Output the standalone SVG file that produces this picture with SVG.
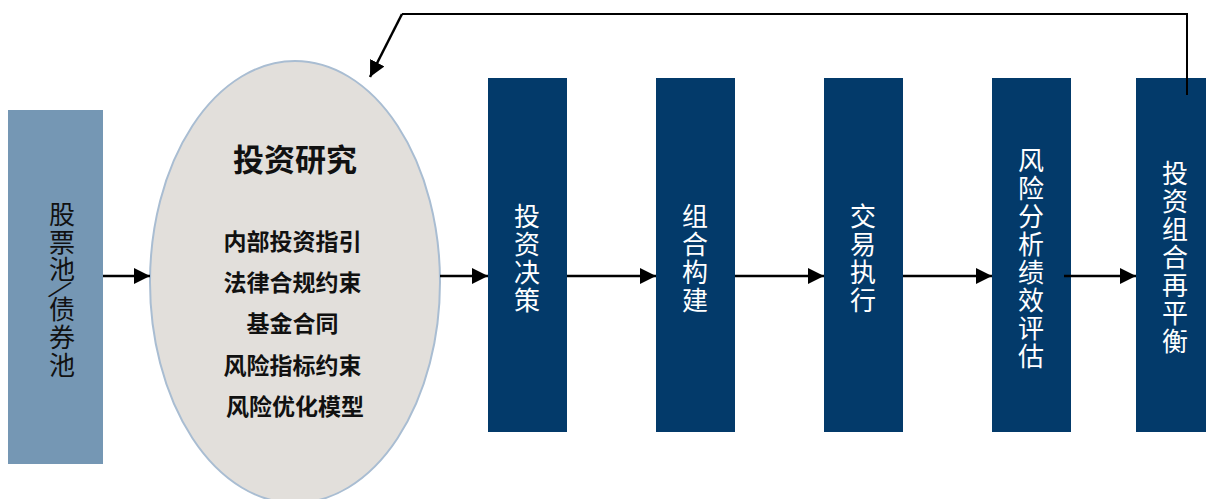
<svg xmlns="http://www.w3.org/2000/svg" width="1206" height="499" viewBox="0 0 1206 499">
<style>
.dark{fill:#033A6A}
.vt{font-family:"Noto Sans CJK SC","Noto Sans",sans-serif;font-size:26px;fill:#ffffff;text-anchor:middle}
.el{font-family:"Noto Sans CJK SC","Noto Sans",sans-serif;font-weight:bold;fill:#111111;text-anchor:middle}
.conn{stroke:#000;stroke-width:2.5;fill:none}
</style>
<defs>
<marker id="ah" markerUnits="userSpaceOnUse" markerWidth="18" markerHeight="16" refX="16" refY="8" orient="auto">
<path d="M0,0 L16,8 L0,16 Z" fill="#000"/>
</marker>
</defs>
<rect width="1206" height="499" fill="#ffffff"/>
<g id="pool">
<rect x="8" y="110" width="95" height="354" fill="#7597B4"/>
<text class="vt" style="fill:#111" dominant-baseline="central">
<tspan x="62" y="212">股</tspan><tspan x="62" y="240">票</tspan><tspan x="62" y="267">池</tspan><tspan x="62" y="307">债</tspan><tspan x="62" y="335">券</tspan><tspan x="62" y="363">池</tspan>
</text>
<text class="vt" style="fill:#111" transform="translate(62,287) rotate(40)" dominant-baseline="central" x="0" y="0">/</text>
</g>
<g id="research">
<ellipse cx="295" cy="282" rx="145" ry="221" fill="#E2DFDB" stroke="#A9BDD2" stroke-width="2"/>
<text class="el" x="295" y="157" font-size="31" dominant-baseline="central">投资研究</text>
<text class="el" font-size="23" dominant-baseline="central">
<tspan x="295" y="240">内部投资指引</tspan>
<tspan x="295" y="281">法律合规约束</tspan>
<tspan x="295" y="322">基金合同</tspan>
<tspan x="295" y="364">风险指标约束</tspan>
<tspan x="295" y="405">风险优化模型</tspan>
</text>
</g>
<g id="decision">
<rect class="dark" x="488" y="78" width="79" height="354"/>
<text class="vt" dominant-baseline="central"><tspan x="527" y="214">投</tspan><tspan x="527" y="242">资</tspan><tspan x="527" y="270">决</tspan><tspan x="527" y="298">策</tspan></text>
</g>
<g id="construct">
<rect class="dark" x="656" y="78" width="79" height="354"/>
<text class="vt" dominant-baseline="central"><tspan x="695" y="214">组</tspan><tspan x="695" y="242">合</tspan><tspan x="695" y="270">构</tspan><tspan x="695" y="298">建</tspan></text>
</g>
<g id="execute">
<rect class="dark" x="824" y="78" width="79" height="354"/>
<text class="vt" dominant-baseline="central"><tspan x="863" y="214">交</tspan><tspan x="863" y="242">易</tspan><tspan x="863" y="270">执</tspan><tspan x="863" y="298">行</tspan></text>
</g>
<g id="risk">
<rect class="dark" x="992" y="78" width="79" height="354"/>
<text class="vt" dominant-baseline="central"><tspan x="1031" y="158">风</tspan><tspan x="1031" y="186">险</tspan><tspan x="1031" y="214">分</tspan><tspan x="1031" y="242">析</tspan><tspan x="1031" y="270">绩</tspan><tspan x="1031" y="298">效</tspan><tspan x="1031" y="326">评</tspan><tspan x="1031" y="354">估</tspan></text>
</g>
<g id="rebalance">
<rect class="dark" x="1136" y="78" width="80" height="354"/>
<text class="vt" dominant-baseline="central"><tspan x="1175" y="171">投</tspan><tspan x="1175" y="199">资</tspan><tspan x="1175" y="227">组</tspan><tspan x="1175" y="255">合</tspan><tspan x="1175" y="283">再</tspan><tspan x="1175" y="311">平</tspan><tspan x="1175" y="339">衡</tspan></text>
</g>
<g id="connectors">
<line class="conn" x1="103" y1="276" x2="150" y2="276" marker-end="url(#ah)"/>
<line class="conn" x1="440" y1="276" x2="488" y2="276" marker-end="url(#ah)"/>
<line class="conn" x1="567" y1="276" x2="656" y2="276" marker-end="url(#ah)"/>
<line class="conn" x1="735" y1="276" x2="824" y2="276" marker-end="url(#ah)"/>
<line class="conn" x1="903" y1="276" x2="992" y2="276" marker-end="url(#ah)"/>
<line class="conn" x1="1064" y1="276" x2="1136" y2="276" marker-end="url(#ah)"/>
<polyline fill="none" stroke="#000" stroke-width="2" points="1187,95 1187,14 402,14"/>
<line class="conn" x1="402" y1="14" x2="370" y2="77" marker-end="url(#ah)"/>
</g>
</svg>
